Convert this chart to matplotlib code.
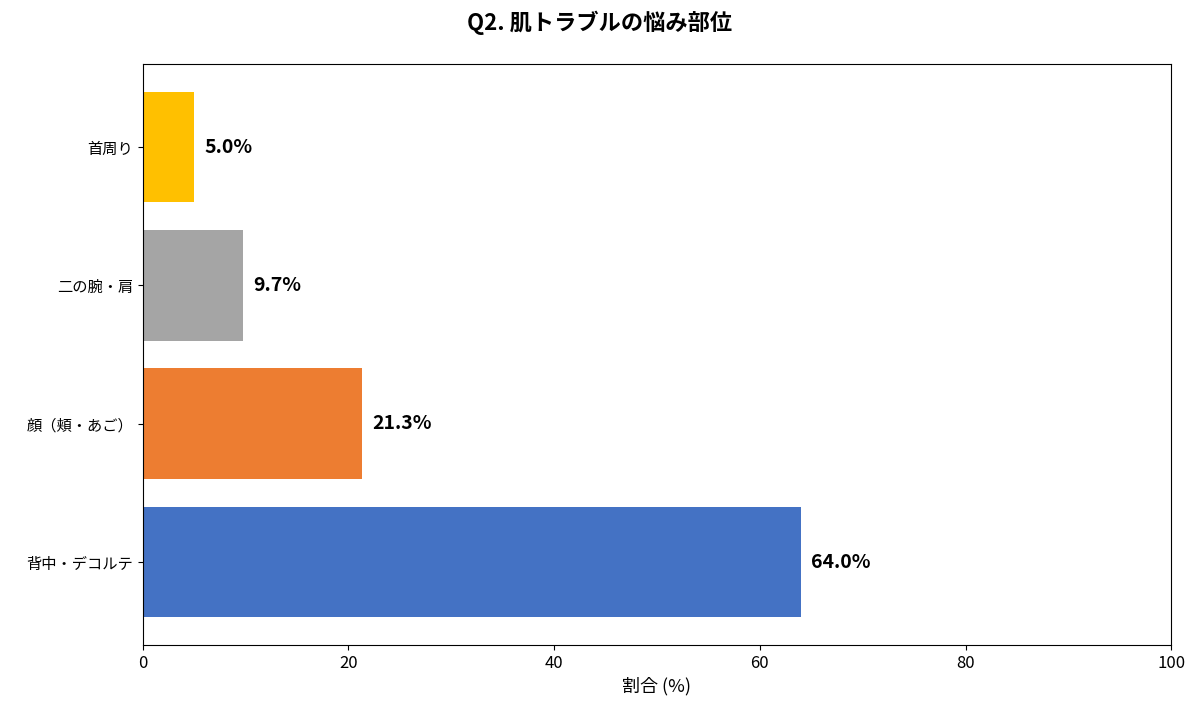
import matplotlib
matplotlib.use("Agg")
import matplotlib.pyplot as plt

plt.rcParams['font.family'] = ['Noto Sans CJK JP', 'DejaVu Sans']

categories = ['背中・デコルテ', '顔（頬・あご）', '二の腕・肩', '首周り']
values = [64.0, 21.3, 9.7, 5.0]
colors = ['#4472C4', '#ED7D31', '#A5A5A5', '#FFC000']

fig = plt.figure(figsize=(12, 7.12), dpi=100)
ax = fig.add_axes([0.119, 0.094, 0.857, 0.816])
y = range(len(categories))
ax.barh(y, values, color=colors, height=0.8)
ax.set_yticks(list(y))
ax.set_yticklabels(categories, fontsize=11)
for i, v in enumerate(values):
    ax.text(v + 1, i, f'{v:.1f}%', va='center', ha='left', fontsize=14, fontweight='bold')
ax.set_xlim(0, 100)
ax.set_ylim(-0.6, 3.6)
ax.tick_params(axis='x', labelsize=12)
ax.set_xlabel('割合 (%)', fontsize=13)
fig.suptitle('Q2. 肌トラブルの悩み部位', fontsize=16, fontweight='bold', y=0.985)
fig.savefig('out.png', dpi=100)
